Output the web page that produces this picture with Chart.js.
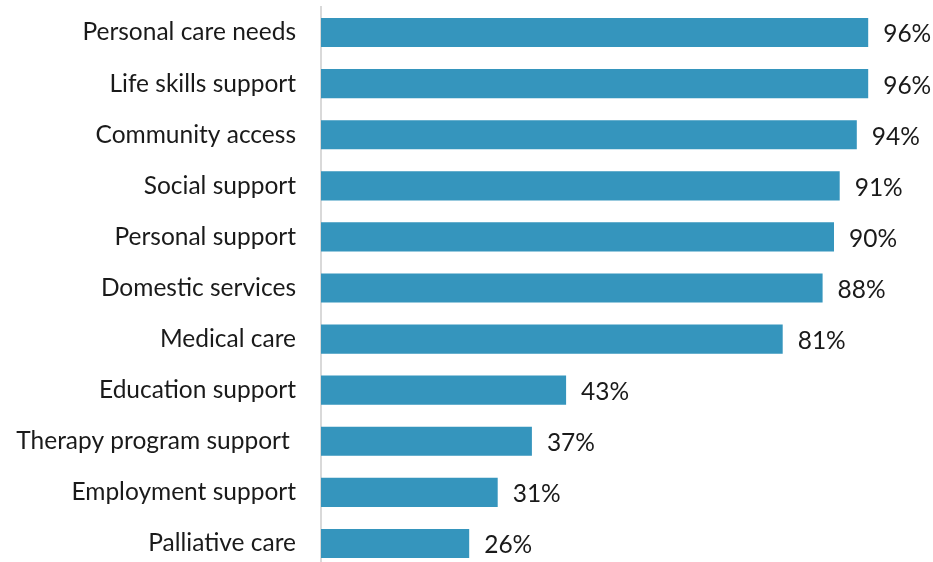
<!DOCTYPE html>
<html>
<head>
<meta charset="utf-8">
<script src="https://cdn.jsdelivr.net/npm/chart.js@4"></script>
<style>
  html, body { margin: 0; padding: 0; background: #fff; overflow: hidden; }
  #wrap { width: 933px; height: 569px; position: relative; }
</style>
</head>
<body>
<div id="wrap"><canvas id="supportChart"></canvas></div>
<script>
// data
const categories = [
    'Personal care needs',
    'Life skills support',
    'Community access',
    'Social support',
    'Personal support',
    'Domestic services',
    'Medical care',
    'Education support',
    'Therapy program support ',
    'Employment support',
    'Palliative care'
];
const percentValues = [96, 96, 94, 91, 90, 88, 81, 43, 37, 31, 26];

const FONT = 'Lato, "Liberation Sans", sans-serif';
const FONT_SIZE = 24.5;

// value labels at the end of each bar
const valueLabels = {
    id: 'valueLabels',
    afterDatasetsDraw(chart) {
        const { ctx } = chart;
        const meta = chart.getDatasetMeta(0);
        ctx.save();
        ctx.font = FONT_SIZE + 'px ' + FONT;
        ctx.fillStyle = '#1a1a1a';
        ctx.textAlign = 'left';
        ctx.textBaseline = 'middle';
        meta.data.forEach((bar, i) => {
            ctx.fillText(percentValues[i] + '%', bar.x + 15, bar.y + 2);
        });
        ctx.restore();
    }
};

new Chart(document.getElementById('supportChart'), {
    type: 'bar',
    data: {
        labels: categories,
        datasets: [{
            data: percentValues,
            backgroundColor: '#3595bd',
            borderWidth: 0,
            barPercentage: 0.57,
            categoryPercentage: 1
        }]
    },
    options: {
        indexAxis: 'y',
        responsive: true,
        maintainAspectRatio: false,
        animation: false,
        layout: { padding: { top: 7, right: 42, left: 0, bottom: 0 } },
        plugins: {
            legend: { display: false },
            tooltip: { enabled: false }
        },
        scales: {
            x: {
                display: false,
                min: 0,
                max: 100
            },
            y: {
                grid: { display: false, drawTicks: false },
                border: { display: true, color: '#d9d9d9', width: 2 },
                ticks: {
                    padding: 25,
                    color: '#1a1a1a',
                    font: { family: FONT, size: FONT_SIZE }
                },
                afterFit(scale) {
                    scale.width = 321;
                    scale.paddingTop = 0;
                    scale.paddingBottom = 0;
                }
            }
        }
    },
    plugins: [valueLabels]
});
</script>
</body>
</html>
